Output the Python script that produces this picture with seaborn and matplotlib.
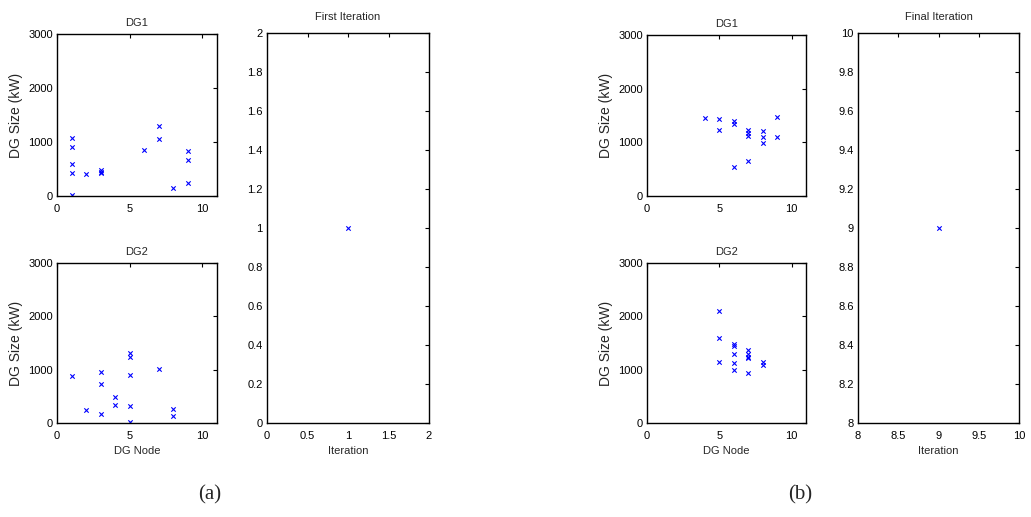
import numpy as np
import pandas as pd
import matplotlib
matplotlib.use("Agg")
import matplotlib.pyplot as plt
import seaborn as sns

# ---- data ----
a_dg1_node = [1, 1, 1, 1, 1, 2, 3, 3, 3, 6, 7, 7, 8, 9, 9, 9]
a_dg1_size = [1080, 910, 600, 420, 15, 400, 490, 440, 420, 860, 1290, 1060, 150, 840, 670, 250]
a_dg2_node = [1, 2, 3, 3, 3, 4, 4, 5, 5, 5, 5, 5, 7, 8, 8]
a_dg2_size = [890, 250, 950, 740, 170, 490, 340, 1320, 1230, 900, 320, 10, 1010, 270, 140]
b_dg1_node = [4, 5, 5, 6, 6, 6, 7, 7, 7, 7, 8, 8, 8, 9, 9]
b_dg1_size = [1450, 1430, 1230, 1400, 1340, 540, 1230, 1170, 1120, 650, 1210, 1100, 980, 1470, 1100]
b_dg2_node = [5, 5, 5, 6, 6, 6, 6, 6, 7, 7, 7, 7, 7, 8, 8]
b_dg2_size = [2100, 1600, 1150, 1480, 1440, 1300, 1130, 1000, 1370, 1290, 1240, 1220, 930, 1150, 1080]
a_iter_x = [1]
a_iter_y = [1]
b_iter_x = [9]
b_iter_y = [9]

node_ticks = [0, 5, 10]
size_ticks = [0, 1000, 2000, 3000]

sns.set_style("white")
plt.rcParams["font.family"] = ["Liberation Sans", "DejaVu Sans"]
FS = 8.0        # horizontal text
FS_Y = 10.0     # rotated y label

fig = plt.figure(figsize=(10.31, 5.17), dpi=100)
W, H = 1031, 517


def ax_at(left, top, right, bottom):
    return fig.add_axes([left / W, 1 - bottom / H, (right - left) / W, (bottom - top) / H])


def style(ax):
    for s in ax.spines.values():
        s.set_visible(True)
        s.set_color("black")
        s.set_linewidth(1.0)
    ax.tick_params(direction="in", length=3, width=0.8, top=True, right=True,
                   labelsize=FS, colors="black")
    ax.tick_params(axis="x", pad=5.5)
    ax.tick_params(axis="y", pad=3)
    ax.grid(False)


def scatter(ax, xs, ys):
    df = pd.DataFrame({"x": xs, "y": ys})
    sns.scatterplot(data=df, x="x", y="y", ax=ax, marker="x", color="blue",
                    s=10, linewidth=0.8, legend=False)


def node_panel(ax, xs, ys, title, xlabel):
    scatter(ax, xs, ys)
    ax.set_xlim(0, 11)
    ax.set_ylim(0, 3000)
    ax.set_xticks(node_ticks)
    ax.set_yticks(size_ticks)
    ax.set_title(title, fontsize=FS, pad=5.8)
    ax.set_ylabel("DG Size (kW)", fontsize=FS_Y, labelpad=4)
    ax.set_xlabel(xlabel, fontsize=FS, labelpad=4)
    style(ax)


def iter_panel(ax, xs, ys, lo, title):
    scatter(ax, xs, ys)
    ax.set_xlim(lo, lo + 2)
    ax.set_ylim(lo, lo + 2)
    ax.set_xticks(np.arange(lo, lo + 2.01, 0.5))
    ax.set_yticks(np.arange(lo, lo + 2.01, 0.2))
    ax.xaxis.set_major_formatter(matplotlib.ticker.FuncFormatter(lambda v, p: f"{v:g}"))
    ax.yaxis.set_major_formatter(matplotlib.ticker.FuncFormatter(lambda v, p: f"{v:g}"))
    ax.set_title(title, fontsize=FS, pad=9.4)
    ax.set_xlabel("Iteration", fontsize=FS, labelpad=4)
    ax.set_ylabel("")
    style(ax)


# (a)
node_panel(ax_at(57, 34, 217, 196), a_dg1_node, a_dg1_size, "DG1", "")
node_panel(ax_at(57, 263, 217, 423), a_dg2_node, a_dg2_size, "DG2", "DG Node")
iter_panel(ax_at(267, 33, 429, 423), a_iter_x, a_iter_y, 0, "First Iteration")
# (b)
node_panel(ax_at(647, 35, 806, 196), b_dg1_node, b_dg1_size, "DG1", "")
node_panel(ax_at(647, 263, 806, 423), b_dg2_node, b_dg2_size, "DG2", "DG Node")
iter_panel(ax_at(858, 33, 1019, 423), b_iter_x, b_iter_y, 8, "Final Iteration")

fig.text(210 / W, 1 - 495 / H, "(a)", ha="center", va="center",
         family="Liberation Serif", fontsize=15)
fig.text(800 / W, 1 - 495 / H, "(b)", ha="center", va="center",
         family="Liberation Serif", fontsize=15)

fig.savefig("out.png", dpi=100, facecolor="white")
